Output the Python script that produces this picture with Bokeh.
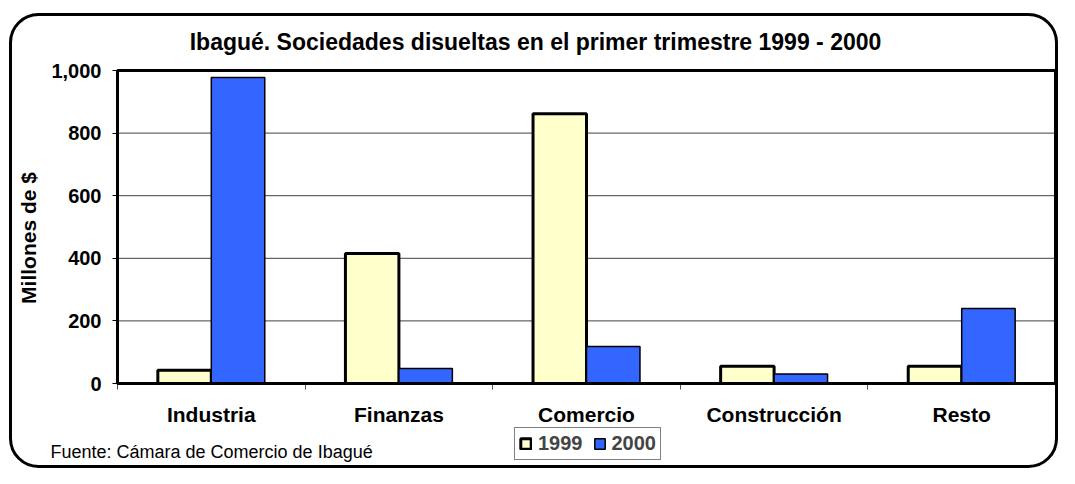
import math
import numpy as np
from bokeh.plotting import figure
from bokeh.models import (Range1d, FixedTicker, NumeralTickFormatter, Label, Legend,
                          LegendItem, BoxAnnotation, Node)
from bokeh.embed import file_html
from bokeh.resources import INLINE

categories = ["Industria", "Finanzas", "Comercio", "Construcción", "Resto"]
years = ["1999", "2000"]
values_1999 = [42, 415, 862, 55, 55]
values_2000 = [978, 48, 118, 30, 240]
y_ticks = [0, 200, 400, 600, 800, 1000]

title_text = "Ibagué. Sociedades disueltas en el primer trimestre 1999 - 2000"
y_label = "Millones de $"
source_text = "Fuente: Cámara de Comercio de Ibagué"

FONT = "Liberation Sans"
W, H = 1059, 468
# plot-area placement on the canvas (pixels)
PL, PR, PT, PB = 117, 1055, 70, 383
n = len(categories)
y_max = y_ticks[-1]
xs = (PR - PL) / n
ys = (PB - PT) / y_max

p = figure(width=W, height=H, output_backend="svg", toolbar_location=None, title=None,
           x_range=Range1d(-PL / xs, n + (W - PR) / xs),
           y_range=Range1d(-(H - PB) / ys, y_max + PT / ys),
           min_border=0)
p.background_fill_color = "white"
p.border_fill_color = "white"
p.outline_line_color = None
p.xgrid.grid_line_color = None
p.ygrid.grid_line_color = None

# horizontal gridlines inside the plot area
p.segment(x0=0, x1=n, y0=y_ticks[1:-1], y1=y_ticks[1:-1], line_color="#404040", line_width=1)

idx = np.arange(n) + 0.5
bw = 0.285
r1 = p.vbar(x=idx - bw / 2, top=values_1999, width=bw, bottom=0,
            fill_color="#FFFFCC", line_color="black", line_width=3)
r2 = p.vbar(x=idx + bw / 2, top=values_2000, width=bw, bottom=0,
            fill_color="#3366FF", line_color="black", line_width=1.5)

# plot-area frame
p.add_layout(BoxAnnotation(left=0, right=n, bottom=0, top=y_max, fill_color=None,
                           fill_alpha=0, line_color="black", line_alpha=1, line_width=3,
                           editable=False))

# y axis
ya = p.yaxis[0]
ya.fixed_location = 0
ya.bounds = (0, y_max)
ya.ticker = FixedTicker(ticks=y_ticks)
ya.formatter = NumeralTickFormatter(format="0,0")
ya.axis_line_color = "black"
ya.axis_line_width = 3
ya.major_tick_out = 5
ya.major_tick_in = 0
ya.major_tick_line_color = "black"
ya.minor_tick_line_color = None
ya.major_label_standoff = 11
ya.major_label_text_font = FONT
ya.major_label_text_font_style = "bold"
ya.major_label_text_font_size = "20px"
ya.major_label_text_color = "black"

# x axis: labels at category centres, ticks at category boundaries
xa = p.xaxis[0]
xa.fixed_location = 0
xa.bounds = (0, n)
xa.ticker = FixedTicker(ticks=list(idx), minor_ticks=list(range(n + 1)))
xa.major_label_overrides = {float(v): c for v, c in zip(idx, categories)}
xa.axis_line_color = "black"
xa.axis_line_width = 3
xa.major_tick_line_color = None
xa.major_tick_out = 0
xa.major_tick_in = 0
xa.minor_tick_line_color = "#555555"
xa.minor_tick_out = 6
xa.minor_tick_in = 0
xa.major_label_standoff = 13
xa.major_label_text_font = FONT
xa.major_label_text_font_style = "bold"
xa.major_label_text_font_size = "21px"
xa.major_label_text_color = "black"

# texts (screen units, measured from the canvas' bottom-left)
p.add_layout(Label(x=535, y=H - 41.5, x_units="screen", y_units="screen", text=title_text,
                   text_align="center", text_baseline="alphabetic", text_font=FONT,
                   text_font_style="bold", text_font_size="23px", text_color="black"))
p.add_layout(Label(x=28, y=H - 237.5, x_units="screen", y_units="screen", text=y_label,
                   angle=math.pi / 2, text_align="center", text_baseline="middle",
                   text_font=FONT, text_font_style="bold", text_font_size="21px",
                   text_color="black"))
p.add_layout(Label(x=50, y=H - 451, x_units="screen", y_units="screen", text=source_text,
                   text_align="left", text_baseline="alphabetic", text_font=FONT,
                   text_font_size="18px", text_color="black"))

legend = Legend(items=[LegendItem(label=years[0], renderers=[r1]),
                       LegendItem(label=years[1], renderers=[r2])],
                location=(514, 8), orientation="horizontal",
                label_text_font=FONT, label_text_font_style="bold", label_text_font_size="20px",
                glyph_width=13, glyph_height=13, label_standoff=6, spacing=10,
                padding=4, margin=0, border_line_color="black", border_line_width=1,
                background_fill_color="white", background_fill_alpha=1)
p.add_layout(legend, "center")

# rounded outer border of the chart
p.add_layout(BoxAnnotation(left=Node(target="canvas", symbol="left", offset=10),
                           right=Node(target="canvas", symbol="right", offset=-3),
                           top=Node(target="canvas", symbol="top", offset=14),
                           bottom=Node(target="canvas", symbol="bottom", offset=-2),
                           fill_color=None, fill_alpha=0, line_color="black", line_alpha=1,
                           line_width=3, border_radius=28, level="overlay", editable=False))

open("out.html", "w").write(file_html(p, INLINE))
